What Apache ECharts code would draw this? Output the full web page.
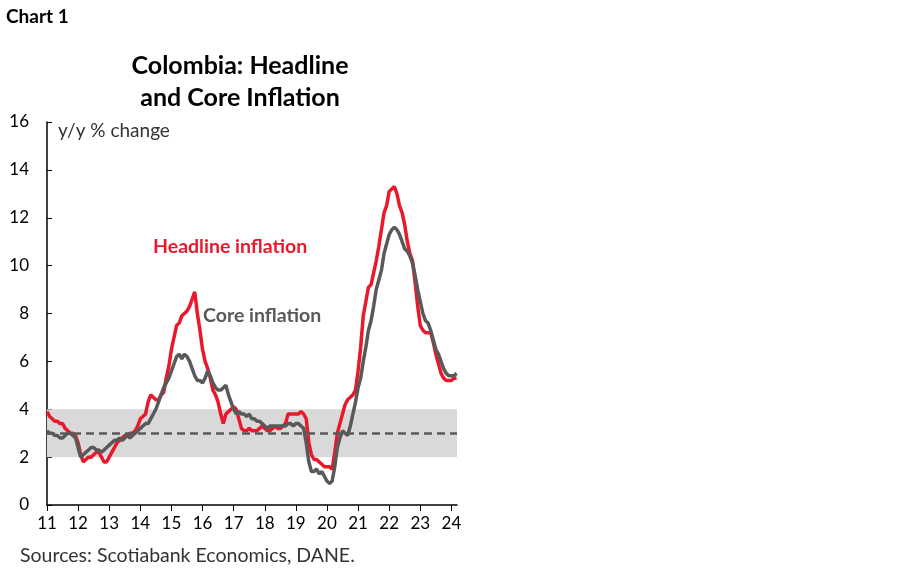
<!DOCTYPE html>
<html>
<head>
<meta charset="utf-8">
<script src="https://cdn.jsdelivr.net/npm/echarts@6/dist/echarts.min.js"></script>
<style>html,body{margin:0;background:#fff}#chart{width:900px;height:579px}</style>
</head>
<body>
<div id="chart"></div>
<script>
// monthly values, first point = Jan 2011
var startYear = 11;
var headline = [
  3.9,3.7,3.6,3.5,3.5,3.4,3.4,3.2,3.1,3.0,3.0,2.9,
  2.6,2.1,1.8,1.9,2.0,2.0,2.1,2.2,2.2,2.0,1.8,1.8,
  2.0,2.2,2.4,2.6,2.7,2.8,2.9,2.9,3.0,3.0,3.1,3.3,
  3.6,3.7,3.8,4.3,4.6,4.5,4.4,4.4,4.6,4.7,5.3,5.8,
  6.5,7.0,7.5,7.6,7.9,8.0,8.1,8.3,8.6,8.9,8.0,7.3,
  6.5,6.0,5.7,5.3,4.8,4.6,4.3,3.8,3.4,3.8,3.9,4.0,
  4.1,4.0,3.6,3.2,3.1,3.1,3.2,3.1,3.1,3.1,3.2,3.3,
  3.2,3.1,3.1,3.2,3.3,3.2,3.2,3.3,3.4,3.8,3.8,3.8,
  3.8,3.8,3.9,3.8,3.6,2.6,2.1,1.9,1.9,1.8,1.7,1.6,
  1.6,1.6,1.5,2.2,3.0,3.4,3.8,4.2,4.4,4.5,4.6,4.8,
  5.6,6.6,7.9,8.5,9.1,9.2,9.7,10.2,10.8,11.5,12.2,12.5,
  13.1,13.2,13.3,13.0,12.5,12.2,11.7,11.0,10.5,10.2,9.3,8.3,
  7.5,7.3,7.2,7.2,7.2,6.8,6.3,5.9,5.5,5.3,5.2,5.2,
  5.2,5.3,5.3
];
var core = [
  3.1,3.0,3.0,2.9,2.9,2.8,2.8,2.9,3.0,3.0,2.9,2.8,
  2.4,2.0,2.1,2.2,2.3,2.4,2.4,2.3,2.3,2.2,2.3,2.4,
  2.5,2.6,2.7,2.7,2.8,2.7,2.8,2.9,2.8,2.9,3.0,3.1,
  3.2,3.3,3.4,3.4,3.6,3.8,4.0,4.3,4.6,4.9,5.1,5.3,
  5.6,5.9,6.2,6.3,6.1,6.3,6.2,6.0,5.7,5.4,5.2,5.2,
  5.1,5.3,5.6,5.4,5.1,4.9,4.8,4.8,4.9,5.0,4.6,4.3,
  4.0,3.8,3.9,3.8,3.8,3.7,3.8,3.6,3.6,3.5,3.5,3.4,
  3.3,3.2,3.3,3.3,3.3,3.3,3.3,3.3,3.3,3.4,3.4,3.3,
  3.4,3.4,3.3,3.2,2.6,1.8,1.4,1.4,1.5,1.3,1.4,1.2,
  1.0,0.9,1.0,1.6,2.4,2.8,3.1,3.0,2.9,3.3,3.8,4.3,
  4.9,5.3,6.0,6.6,7.3,7.7,8.3,9.0,9.4,9.8,10.5,10.9,
  11.3,11.5,11.6,11.5,11.3,11.0,10.7,10.6,10.4,10.1,9.6,9.0,
  8.5,8.0,7.7,7.6,7.3,6.9,6.5,6.3,6.0,5.7,5.5,5.4,
  5.4,5.4,5.5
];
var targetBand = [2, 4];
var targetMid = 3;

function toPairs(arr) {
  return arr.map(function (v, i) { return [startYear + i / 12, v]; });
}

var chart = echarts.init(document.getElementById('chart'));
var font = 'Lato, "Open Sans", sans-serif';
chart.setOption({
  animation: false,
  textStyle: { fontFamily: font },
  grid: { left: 47, right: 443, top: 122, bottom: 74 },
  graphic: [
    { type: 'text', left: 6, top: 7, style: { text: 'Chart 1', font: 'bold 19px ' + font, fill: '#000' } },
    { type: 'text', x: 240, y: 50, style: { text: 'Colombia: Headline\nand Core Inflation', font: 'bold 25px ' + font, fill: '#000', align: 'center', lineHeight: 32 } },
    { type: 'text', left: 58, top: 121, style: { text: 'y/y % change', font: '19px ' + font, fill: '#333' } },
    { type: 'text', left: 153, top: 237, style: { text: 'Headline inflation', font: 'bold 19.5px ' + font, fill: '#e8192c' } },
    { type: 'text', left: 203, top: 306, style: { text: 'Core inflation', font: 'bold 19.5px ' + font, fill: '#595959' } },
    { type: 'text', left: 20, top: 546, style: { text: 'Sources: Scotiabank Economics, DANE.', font: '19.5px ' + font, fill: '#333' } }
  ],
  xAxis: {
    type: 'value', min: 11, max: 24.18, interval: 1,
    axisLine: { show: true, onZero: false, lineStyle: { color: '#000', width: 1.5 } },
    axisTick: { show: true, length: 6, lineStyle: { color: '#000' } },
    axisLabel: { color: '#000', fontSize: 17, margin: 10, showMaxLabel: false, formatter: function (v) { return Math.round(v); } },
    splitLine: { show: false }
  },
  yAxis: {
    type: 'value', min: 0, max: 16, interval: 2,
    axisLine: { show: true, lineStyle: { color: '#000', width: 1.5 } },
    axisTick: { show: true, length: 5, inside: true, lineStyle: { color: '#000' } },
    axisLabel: { color: '#000', fontSize: 17, margin: 18 },
    splitLine: { show: false }
  },
  series: [
    {
      type: 'line', data: [], silent: true,
      markArea: { silent: true, itemStyle: { color: '#d9d9d9' }, data: [[{ yAxis: targetBand[0] }, { yAxis: targetBand[1] }]] },
      markLine: { silent: true, symbol: 'none', label: { show: false }, lineStyle: { color: '#595959', type: [8, 5], width: 2.5 }, data: [{ yAxis: targetMid }] }
    },
    { name: 'Headline', type: 'line', data: toPairs(headline), showSymbol: false, lineStyle: { color: '#e8192c', width: 3.5 }, z: 3 },
    { name: 'Core', type: 'line', data: toPairs(core), showSymbol: false, lineStyle: { color: '#595959', width: 3.5 }, z: 4 }
  ]
});
</script>
</body>
</html>
